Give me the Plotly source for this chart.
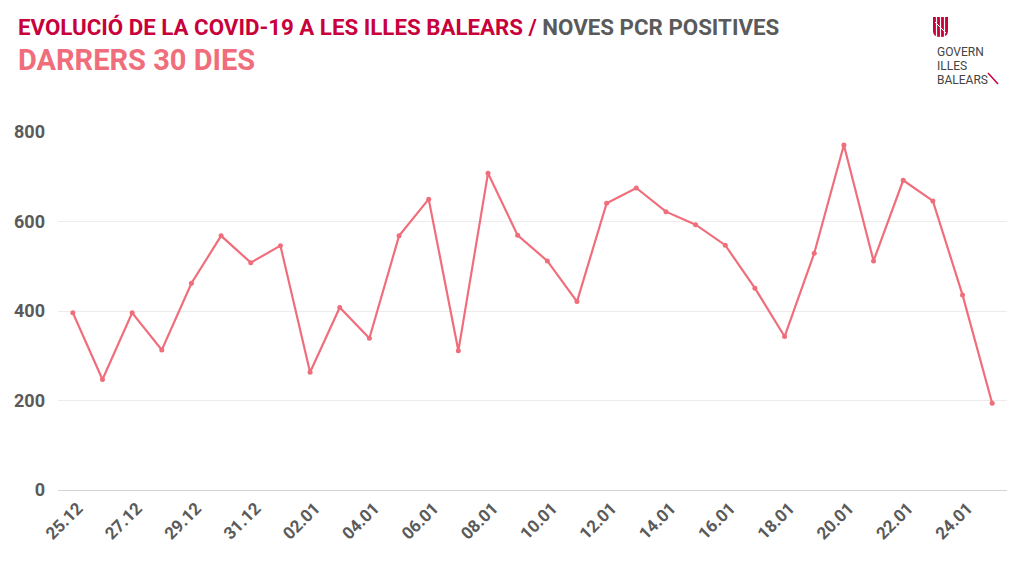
import plotly.graph_objects as go

# dies (25.12 -> 25.01)
dates = ["25.12", "26.12", "27.12", "28.12", "29.12", "30.12", "31.12",
         "01.01", "02.01", "03.01", "04.01", "05.01", "06.01", "07.01",
         "08.01", "09.01", "10.01", "11.01", "12.01", "13.01", "14.01",
         "15.01", "16.01", "17.01", "18.01", "19.01", "20.01", "21.01",
         "22.01", "23.01", "24.01", "25.01"]
pcr_positives = [396, 247, 396, 313, 462, 568, 508, 546, 263, 408, 339,
                 568, 650, 311, 708, 569, 512, 421, 641, 675, 622, 593,
                 547, 451, 343, 529, 771, 512, 692, 646, 436, 194]
y_ticks = [0, 200, 400, 600, 800]
logo_lines = ["GOVERN", "ILLES", "BALEARS"]

# the page body has an 8px margin, so the figure starts at (8, 8)
OFF = 8
W, H = 1024 - OFF, 576 - OFF
L, R, T, B = 58 - OFF, 17, 132 - OFF, 86

def px(x):
    # screen pixel -> paper fraction
    return (x - OFF - L) / (W - L - R)

def py(y):
    return (H - B - (y - OFF)) / (H - T - B)

LINE = "#f06e7c"
CRIMSON = "#c8003c"
GREY = "#5a5a5a"
FONT = "Roboto"

fig = go.Figure()
fig.add_trace(go.Scatter(
    x=dates, y=pcr_positives, mode="lines+markers",
    line=dict(color=LINE, width=2.2),
    marker=dict(color=LINE, size=5),
    hoverinfo="x+y", showlegend=False))

annotations = [
    dict(text="<b><span style='color:%s'>EVOLUCIÓ DE LA COVID-19 A LES ILLES BALEARS /</span> NOVES PCR POSITIVES</b>" % CRIMSON,
         x=px(16), y=py(27), xanchor="left", yanchor="middle",
         font=dict(family=FONT, size=22.3, color=GREY)),
    dict(text="<b>DARRERS 30 DIES</b>",
         x=px(16), y=py(60), xanchor="left", yanchor="middle",
         font=dict(family=FONT, size=29, color=LINE)),
]
for i, t in enumerate(logo_lines):
    annotations.append(dict(text=t, x=px(935), y=py(52 + 14 * i),
                            xanchor="left", yanchor="middle",
                            font=dict(family="Roboto", size=12, color="#444444")))

shapes = []
# logo: escut
shield = "M %f,%f L %f,%f L %f,%f Q %f,%f %f,%f Q %f,%f %f,%f Z" % (
    px(933), py(17), px(948), py(17), px(948), py(31),
    px(948), py(37), px(940.5), py(37),
    px(933), py(37), px(933), py(31))
shapes.append(dict(type="path", xref="paper", yref="paper", path=shield,
                   fillcolor=CRIMSON, line=dict(width=0), layer="above"))
for x0 in [936.5, 940.5, 944.5]:
    shapes.append(dict(type="line", xref="paper", yref="paper",
                       x0=px(x0), x1=px(x0), y0=py(17), y1=py(38),
                       line=dict(color="white", width=1.2), layer="above"))
shapes.append(dict(type="line", xref="paper", yref="paper",
                   x0=px(935), y0=py(22), x1=px(946), y1=py(33),
                   line=dict(color="white", width=1), layer="above"))
shapes.append(dict(type="line", xref="paper", yref="paper",
                   x0=px(988), y0=py(73), x1=px(998), y1=py(84),
                   line=dict(color=CRIMSON, width=1.5)))

fig.update_layout(
    width=W, height=H,
    margin=dict(l=L, r=R, t=T, b=B),
    paper_bgcolor="white", plot_bgcolor="white",
    annotations=[dict(a, xref="paper", yref="paper", showarrow=False) for a in annotations],
    shapes=shapes,
    xaxis=dict(type="category", range=[-0.5, len(dates) - 0.5],
               tickmode="array", tickvals=dates[::2], ticktext=dates[::2],
               tickangle=-45, showgrid=False, showline=False, ticks="",
               ticklabelshift=5, ticklabelstandoff=4,
               tickfont=dict(family=FONT, size=17, color=GREY, weight="bold"),
               automargin=False),
    yaxis=dict(range=[0, 800], tickvals=y_ticks, showgrid=True,
               gridcolor="#ececec", gridwidth=1, zeroline=True,
               zerolinecolor="#d4d4d4", zerolinewidth=1.2, ticks="",
               ticklabelstandoff=12,
               tickfont=dict(family=FONT, size=18, color=GREY, weight="bold"),
               automargin=False),
)

fig.write_html("out.html")
